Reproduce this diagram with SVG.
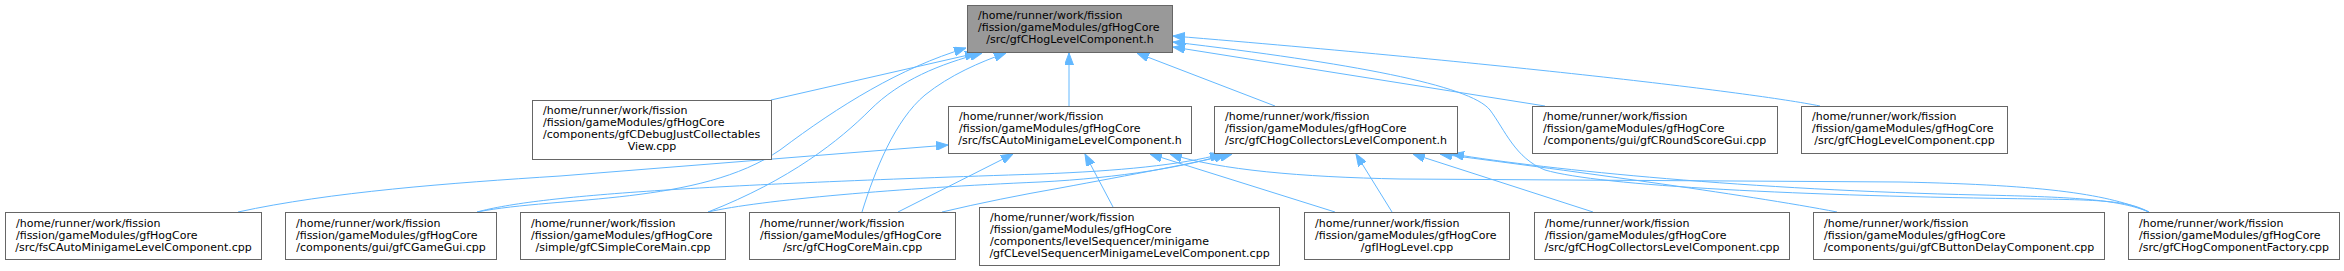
<svg xmlns="http://www.w3.org/2000/svg" width="2344" height="271" viewBox="0 0 2344 271">
<style>
.n rect{fill:#ffffff;stroke:#666666;stroke-width:1}
.m rect{fill:#999999;stroke:#666666;stroke-width:1}
text{font-family:"DejaVu Sans",Verdana,sans-serif;font-size:11px;fill:#000000}
.c{text-anchor:middle}
#edges path{fill:none;stroke:#63b8ff;stroke-width:1;marker-end:url(#ah)}
</style>
<defs>
<marker id="ah" viewBox="0 0 12 9" refX="12" refY="4.5" markerWidth="12" markerHeight="9" markerUnits="userSpaceOnUse" orient="auto">
<path d="M0,0 L12,4.5 L0,9 z" fill="#63b8ff" stroke="#63b8ff" stroke-width="1"/>
</marker>
</defs>
<rect width="2344" height="271" fill="#ffffff"/>
<g id="edges">
<path d="M771,100 L977,53"/>
<path d="M477,212 C560,196 700,205 780,150 C840,105 900,68 966,48"/>
<path d="M708,212 C790,180 840,140 870,110 C900,80 940,64 982,53"/>
<path d="M862,212 C875,170 895,120 925,95 C950,75 980,62 1006,53"/>
<path d="M1069,106 L1069,53"/>
<path d="M1275,106 L1137,53"/>
<path d="M1545,106 L1173,47"/>
<path d="M1820,106 C1750,92 1500,63 1173,36"/>
<path d="M2149,212 C2130,202 2110,200 2040,199 C1800,196 1600,186 1545,170 C1515,158 1505,130 1490,110 C1470,85 1350,63 1173,42"/>
<path d="M238,212 C330,192 450,183 560,176 L948,145"/>
<path d="M898,212 L1013,154"/>
<path d="M1113,207 L1085,154"/>
<path d="M1335,212 L1150,154"/>
<path d="M2149,212 C2110,195 2050,185 1900,182 L1400,179 C1300,177 1220,170 1170,154"/>
<path d="M477,212 C540,195 700,185 1040,174 C1120,171 1180,165 1222,154"/>
<path d="M708,212 C760,200 900,188 1040,182 C1120,178 1190,166 1226,154"/>
<path d="M942,212 C980,203 1020,195 1060,188 C1130,175 1200,162 1232,154"/>
<path d="M1392,212 L1356,154"/>
<path d="M1593,212 L1413,154"/>
<path d="M1837,212 C1750,195 1550,168 1440,154"/>
<path d="M2149,212 C2120,200 2080,197 1980,195 C1750,190 1550,170 1452,154"/>
</g>
<g id="n0" class="m"><rect x="967.5" y="5.5" width="205" height="47"/><text x="978" y="19">/home/runner/work/fission</text><text x="978" y="31">/fission/gameModules/gfHogCore</text><text class="c" x="1070" y="43">/src/gfCHogLevelComponent.h</text></g>
<g id="n1" class="n"><rect x="532.5" y="100.5" width="239" height="59"/><text x="543" y="114">/home/runner/work/fission</text><text x="543" y="126">/fission/gameModules/gfHogCore</text><text x="543" y="138">/components/gfCDebugJustCollectables</text><text class="c" x="652" y="150">View.cpp</text></g>
<g id="n2" class="n"><rect x="948.5" y="106.5" width="243" height="47"/><text x="959" y="120">/home/runner/work/fission</text><text x="959" y="132">/fission/gameModules/gfHogCore</text><text class="c" x="1070" y="144">/src/fsCAutoMinigameLevelComponent.h</text></g>
<g id="n3" class="n"><rect x="1214.5" y="106.5" width="243" height="47"/><text x="1225" y="120">/home/runner/work/fission</text><text x="1225" y="132">/fission/gameModules/gfHogCore</text><text class="c" x="1336" y="144">/src/gfCHogCollectorsLevelComponent.h</text></g>
<g id="n4" class="n"><rect x="1532.5" y="106.5" width="245" height="47"/><text x="1543" y="120">/home/runner/work/fission</text><text x="1543" y="132">/fission/gameModules/gfHogCore</text><text class="c" x="1655" y="144">/components/gui/gfCRoundScoreGui.cpp</text></g>
<g id="n5" class="n"><rect x="1801.5" y="106.5" width="206" height="47"/><text x="1812" y="120">/home/runner/work/fission</text><text x="1812" y="132">/fission/gameModules/gfHogCore</text><text class="c" x="1904.5" y="144">/src/gfCHogLevelComponent.cpp</text></g>
<g id="b1" class="n"><rect x="5.5" y="212.5" width="256" height="47"/><text x="16" y="227">/home/runner/work/fission</text><text x="16" y="239">/fission/gameModules/gfHogCore</text><text class="c" x="133.5" y="251">/src/fsCAutoMinigameLevelComponent.cpp</text></g>
<g id="b2" class="n"><rect x="285.5" y="212.5" width="211" height="47"/><text x="296" y="227">/home/runner/work/fission</text><text x="296" y="239">/fission/gameModules/gfHogCore</text><text class="c" x="391" y="251">/components/gui/gfCGameGui.cpp</text></g>
<g id="b3" class="n"><rect x="520.5" y="212.5" width="205" height="47"/><text x="531" y="227">/home/runner/work/fission</text><text x="531" y="239">/fission/gameModules/gfHogCore</text><text class="c" x="623" y="251">/simple/gfCSimpleCoreMain.cpp</text></g>
<g id="b4" class="n"><rect x="749.5" y="212.5" width="206" height="47"/><text x="760" y="227">/home/runner/work/fission</text><text x="760" y="239">/fission/gameModules/gfHogCore</text><text class="c" x="852.5" y="251">/src/gfCHogCoreMain.cpp</text></g>
<g id="b5" class="n"><rect x="979.5" y="207.5" width="300" height="58"/><text x="990" y="221">/home/runner/work/fission</text><text x="990" y="233">/fission/gameModules/gfHogCore</text><text x="990" y="245">/components/levelSequencer/minigame</text><text class="c" x="1129.5" y="257">/gfCLevelSequencerMinigameLevelComponent.cpp</text></g>
<g id="b6" class="n"><rect x="1304.5" y="212.5" width="205" height="47"/><text x="1315" y="227">/home/runner/work/fission</text><text x="1315" y="239">/fission/gameModules/gfHogCore</text><text class="c" x="1407" y="251">/gfIHogLevel.cpp</text></g>
<g id="b7" class="n"><rect x="1534.5" y="212.5" width="255" height="47"/><text x="1545" y="227">/home/runner/work/fission</text><text x="1545" y="239">/fission/gameModules/gfHogCore</text><text class="c" x="1662" y="251">/src/gfCHogCollectorsLevelComponent.cpp</text></g>
<g id="b8" class="n"><rect x="1813.5" y="212.5" width="291" height="47"/><text x="1824" y="227">/home/runner/work/fission</text><text x="1824" y="239">/fission/gameModules/gfHogCore</text><text class="c" x="1959" y="251">/components/gui/gfCButtonDelayComponent.cpp</text></g>
<g id="b9" class="n"><rect x="2128.5" y="212.5" width="211" height="47"/><text x="2139" y="227">/home/runner/work/fission</text><text x="2139" y="239">/fission/gameModules/gfHogCore</text><text class="c" x="2234" y="251">/src/gfCHogComponentFactory.cpp</text></g>
</svg>
